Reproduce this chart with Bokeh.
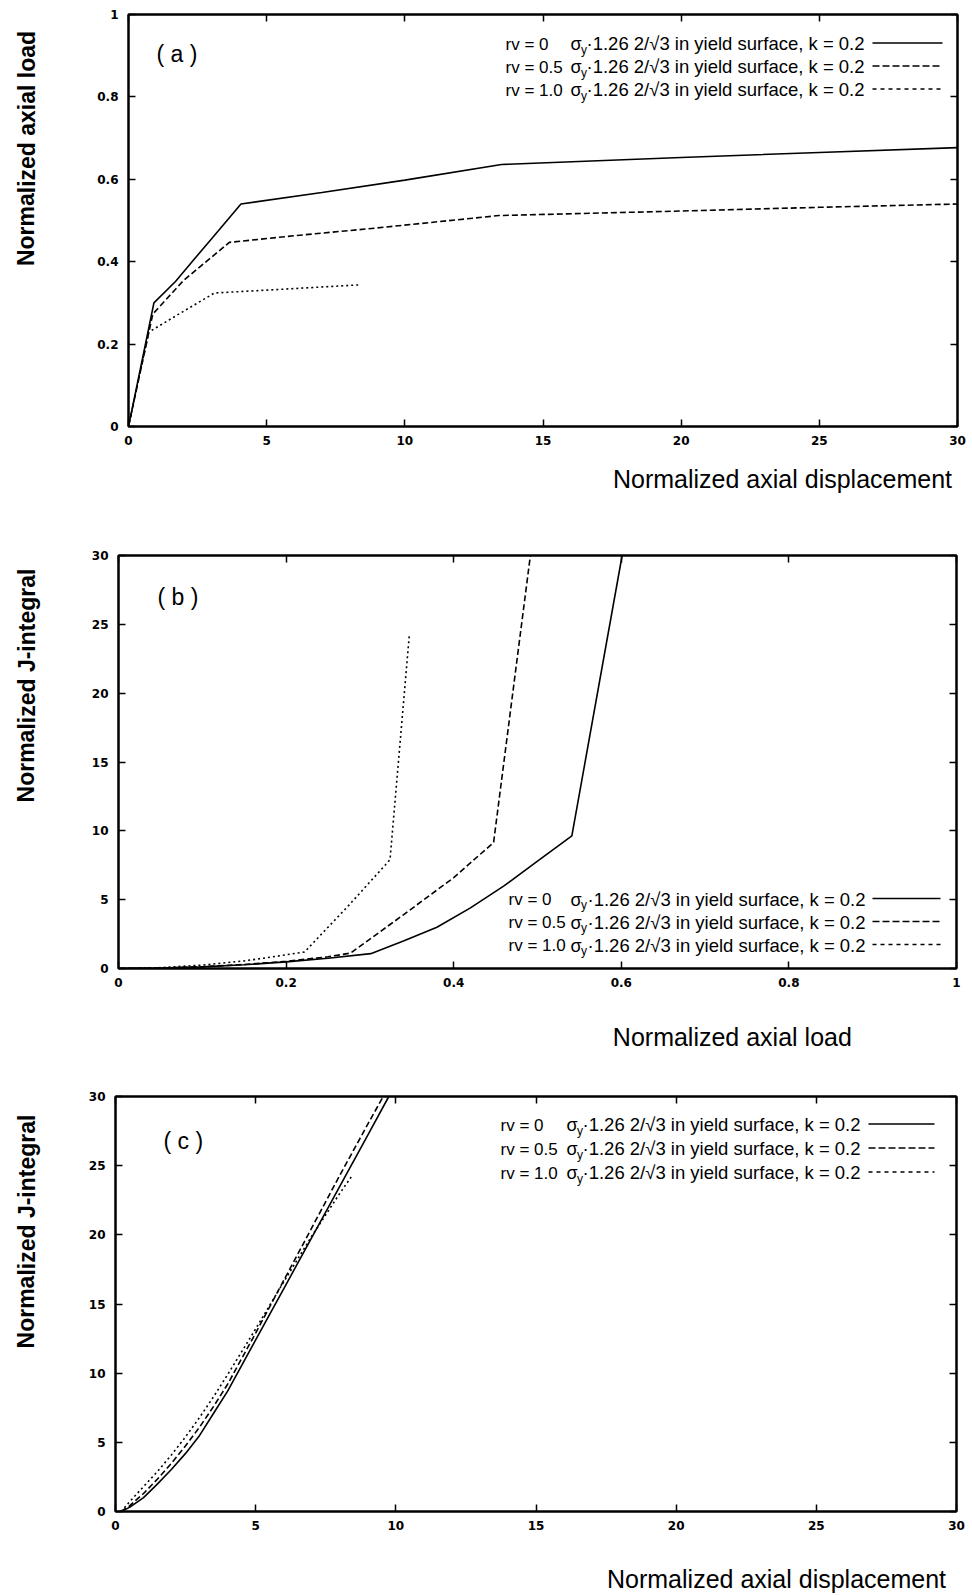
from bokeh.plotting import figure
from bokeh.models import (Range1d, LinearAxis, FixedTicker, CustomJSTickFormatter,
                          Label, Arrow)
from bokeh.layouts import column, row
from bokeh.embed import file_html
from bokeh.resources import INLINE

# ------------------------------------------------------------------ data
# (a) normalized axial load vs normalized axial displacement
a_rv0_x = [0, 0.92, 1.7, 2.3, 3.0, 4.07, 7.0, 10.0, 13.5, 20.0, 25.0, 30.0]
a_rv0_y = [0, 0.300, 0.352, 0.400, 0.455, 0.540, 0.568, 0.598, 0.636, 0.653, 0.665, 0.677]
a_rv05_x = [0, 0.88, 2.0, 3.65, 6.0, 9.0, 13.4, 20.0, 25.0, 30.0]
a_rv05_y = [0, 0.273, 0.355, 0.447, 0.463, 0.482, 0.512, 0.523, 0.532, 0.540]
a_rv10_x = [0, 0.73, 1.9, 3.11, 5.0, 8.41]
a_rv10_y = [0, 0.229, 0.276, 0.324, 0.331, 0.344]

# (b) normalized J-integral vs normalized axial load
b_rv0_x = [0, 0.05, 0.10, 0.15, 0.20, 0.25, 0.301, 0.34, 0.38, 0.42, 0.46, 0.50, 0.541, 0.601]
b_rv0_y = [0, 0.03, 0.12, 0.27, 0.48, 0.75, 1.08, 2.0, 3.0, 4.4, 6.0, 7.8, 9.64, 30.0]
b_rv05_x = [0, 0.05, 0.10, 0.15, 0.20, 0.25, 0.277, 0.34, 0.40, 0.4476, 0.4915]
b_rv05_y = [0, 0.03, 0.13, 0.29, 0.52, 0.85, 1.12, 3.9, 6.6, 9.15, 30.0]
b_rv10_x = [0, 0.05, 0.10, 0.15, 0.19, 0.222, 0.275, 0.324, 0.347]
b_rv10_y = [0, 0.06, 0.25, 0.55, 0.9, 1.2, 4.6, 7.9, 24.2]

# (c) normalized J-integral vs normalized axial displacement
c_rv0_x = [0.2, 0.5, 1.0, 1.5, 2.0, 2.5, 3.0, 3.5, 4.0, 5.0, 6.0, 7.0, 8.0, 9.0, 9.75]
c_rv0_y = [0, 0.3, 1.0, 2.0, 3.05, 4.2, 5.5, 7.1, 8.7, 12.4, 16.1, 19.8, 23.5, 27.2, 30.0]
c_rv05_x = [0.2, 0.5, 1.0, 1.5, 2.0, 2.5, 3.0, 3.5, 4.0, 5.0, 6.0, 7.0, 8.0, 9.0, 9.55]
c_rv05_y = [0, 0.4, 1.3, 2.35, 3.5, 4.75, 6.1, 7.6, 9.2, 12.9, 16.7, 20.5, 24.3, 28.0, 30.0]
c_rv10_x = [0.2, 0.5, 1.0, 1.5, 2.0, 2.5, 3.0, 3.5, 4.0, 5.0, 6.0, 7.0, 8.0, 8.45]
c_rv10_y = [0, 0.7, 1.8, 2.9, 4.1, 5.4, 6.8, 8.3, 9.9, 13.2, 16.6, 19.9, 23.0, 24.3]

# ticks
disp_ticks = [0, 5, 10, 15, 20, 25, 30]
disp_labels = ["0", "5", "10", "15", "20", "25", "30"]
load_ticks = [0, 0.2, 0.4, 0.6, 0.8, 1.0]
load_labels = ["0", "0.2", "0.4", "0.6", "0.8", "1"]
j_ticks = [0, 5, 10, 15, 20, 25, 30]
j_labels = ["0", "5", "10", "15", "20", "25", "30"]

legend_prefix = ["rv = 0", "rv = 0.5", "rv = 1.0"]
legend_rest = "\u00b71.26 2/\u221a3 in yield surface, k = 0.2"
curve_dashes = ["solid", "6 3", "2 3"]
legend_dashes = ["solid", "7 3", "4 4"]

# ------------------------------------------------------------------ helpers
W = 972
SW = 60            # width of the left strip that holds the y titles
FONT = "Liberation Sans"
TICK_FONT = "DejaVu Sans"
BASE_FIX = 0.3     # em shift that puts the alphabetic baseline where wanted


class Geo:
    def __init__(self, L, R, T, B, xr, yr):
        self.L, self.R, self.T, self.B, self.xr, self.yr = L, R, T, B, xr, yr

    def dx(self, px):
        return self.xr[0] + (px - self.L) / (self.R - self.L) * (self.xr[1] - self.xr[0])

    def dy(self, py):
        return self.yr[0] + (self.B - py) / (self.B - self.T) * (self.yr[1] - self.yr[0])


def fmt(vals, labels):
    return CustomJSTickFormatter(
        args=dict(vals=vals, labels=labels),
        code="const i = vals.findIndex(v => Math.abs(v - tick) < 1e-9); return i >= 0 ? labels[i] : '';")


def style_axis(ax):
    ax.axis_line_width = 2
    ax.axis_line_color = "black"
    ax.major_tick_in = 7
    ax.major_tick_out = 0
    ax.major_tick_line_width = 1.5
    ax.minor_tick_in = 0
    ax.minor_tick_out = 0
    ax.major_label_text_font = TICK_FONT
    ax.major_label_text_font_style = "bold"
    ax.major_label_text_font_size = "12px"
    ax.major_label_text_color = "black"


def bare(p):
    p.xgrid.visible = False
    p.ygrid.visible = False
    p.background_fill_color = "white"
    p.border_fill_color = "white"


def make_panel(top, bottom, L, R, T, B, xr, yr, xt, xl, yt, yl):
    """top/bottom/L/R/T/B are page pixels; the figure sits right of the strip."""
    p = figure(width=W - SW, height=bottom - top,
               x_range=Range1d(*xr), y_range=Range1d(*yr),
               min_border_left=L - SW, min_border_right=W - R,
               min_border_top=T - top, min_border_bottom=bottom - B,
               x_axis_location=None, y_axis_location=None,
               output_backend="svg", toolbar_location=None)
    bare(p)
    p.outline_line_color = "black"
    p.outline_line_width = 2

    xb = LinearAxis(ticker=FixedTicker(ticks=xt), formatter=fmt(xt, xl))
    style_axis(xb)
    xb.major_label_standoff = 9
    p.add_layout(xb, "below")

    yleft = LinearAxis(ticker=FixedTicker(ticks=yt), formatter=fmt(yt, yl))
    style_axis(yleft)
    yleft.major_label_standoff = 10
    p.add_layout(yleft, "left")

    for loc, ticks in (("above", xt), ("right", yt)):
        ax = LinearAxis(ticker=FixedTicker(ticks=ticks),
                        formatter=CustomJSTickFormatter(code="return '';"))
        style_axis(ax)
        ax.major_label_text_font_size = "0px"
        ax.major_label_standoff = 0
        p.add_layout(ax, loc)

    return p, Geo(L, R, T, B, xr, yr)


def strip(w, h):
    s = figure(width=w, height=h, x_range=Range1d(0, w), y_range=Range1d(0, h),
               min_border=0, min_border_left=0, min_border_right=0,
               min_border_top=0, min_border_bottom=0,
               x_axis_location=None, y_axis_location=None,
               output_backend="svg", toolbar_location=None)
    bare(s)
    s.outline_line_color = None
    return s


def label(p, x, y, text, size, bold=False, align="left", angle=0.0, font=FONT):
    p.add_layout(Label(x=x, y=y, text=text, text_font=font,
                       text_font_size=f"{size}px",
                       text_font_style="bold" if bold else "normal",
                       text_align=align, text_baseline="alphabetic",
                       angle=angle, text_color="black"))


def plabel(p, g, px, py, text, size):
    # py is the wanted page baseline
    label(p, g.dx(px), g.dy(py - BASE_FIX * size), text, size)


def legend(p, g, rows, rv_x, sig_x, rest_x, lx0, lx1):
    for i, cy in enumerate(rows):
        base = cy + 6.5
        plabel(p, g, rv_x, base, legend_prefix[i], 17)
        plabel(p, g, sig_x, base, "\u03c3", 18)
        plabel(p, g, sig_x + 10.5, base + 4, "y", 12)
        plabel(p, g, rest_x, base, legend_rest, 18.5)
        p.add_layout(Arrow(end=None, x_start=g.dx(lx0), y_start=g.dy(cy),
                           x_end=g.dx(lx1), y_end=g.dy(cy),
                           line_color="black", line_width=1.6, line_dash=legend_dashes[i]))


def curves(p, xs, ys):
    for x, y, d in zip(xs, ys, curve_dashes):
        p.line(x, y, line_color="black", line_width=1.6, line_dash=d)


def ytitle(top, bottom, center_py, text):
    h = bottom - top
    s = strip(SW, h)
    size = 23
    label(s, 26, h - (center_py - top), text, size, bold=True,
          align="center", angle=1.5707963)
    return s


def xtitle(top, bottom, px, py, text):
    h = bottom - top
    s = strip(W - SW, h)
    size = 25
    label(s, px - SW - 20, h - (py - top) + BASE_FIX * size, text, size)
    return s


# ------------------------------------------------------------------ panel (a)
pa, ga = make_panel(0, 450, 128, 957, 14, 426, (0, 30), (0, 1),
                    disp_ticks, disp_labels, load_ticks, load_labels)
curves(pa, [a_rv0_x, a_rv05_x, a_rv10_x], [a_rv0_y, a_rv05_y, a_rv10_y])
legend(pa, ga, [42.5, 65.5, 88.5], 505, 570, 586, 872, 942)
plabel(pa, ga, 156, 60, "( a )", 23)
ya = ytitle(0, 500, 148, "Normalized axial load")
xa = xtitle(450, 500, 613, 486, "Normalized axial displacement")

# ------------------------------------------------------------------ panel (b)
pb, gb = make_panel(500, 990, 118, 956, 555, 968, (0, 1), (0, 30),
                    load_ticks, load_labels, j_ticks, j_labels)
curves(pb, [b_rv0_x, b_rv05_x, b_rv10_x], [b_rv0_y, b_rv05_y, b_rv10_y])
legend(pb, gb, [898, 921, 944], 508, 570, 587, 872, 940)
plabel(pb, gb, 157, 603, "( b )", 23)
yb = ytitle(500, 1060, 685, "Normalized J-integral")
xb = xtitle(990, 1060, 618, 1044, "Normalized axial load")

# ------------------------------------------------------------------ panel (c)
pc, gc = make_panel(1060, 1535, 115, 956, 1096, 1511, (0, 30), (0, 30),
                    disp_ticks, disp_labels, j_ticks, j_labels)
curves(pc, [c_rv0_x, c_rv05_x, c_rv10_x], [c_rv0_y, c_rv05_y, c_rv10_y])
legend(pc, gc, [1123.5, 1147.5, 1171.5], 500, 566, 582, 868, 934)
plabel(pc, gc, 163, 1147, "( c )", 23)
yc = ytitle(1060, 1595, 1231, "Normalized J-integral")
xc = xtitle(1535, 1595, 613, 1586, "Normalized axial displacement")

layout = column(
    row(ya, column(pa, xa, spacing=0), spacing=0),
    row(yb, column(pb, xb, spacing=0), spacing=0),
    row(yc, column(pc, xc, spacing=0), spacing=0),
    spacing=0)
open("out.html", "w").write(file_html(layout, INLINE))
